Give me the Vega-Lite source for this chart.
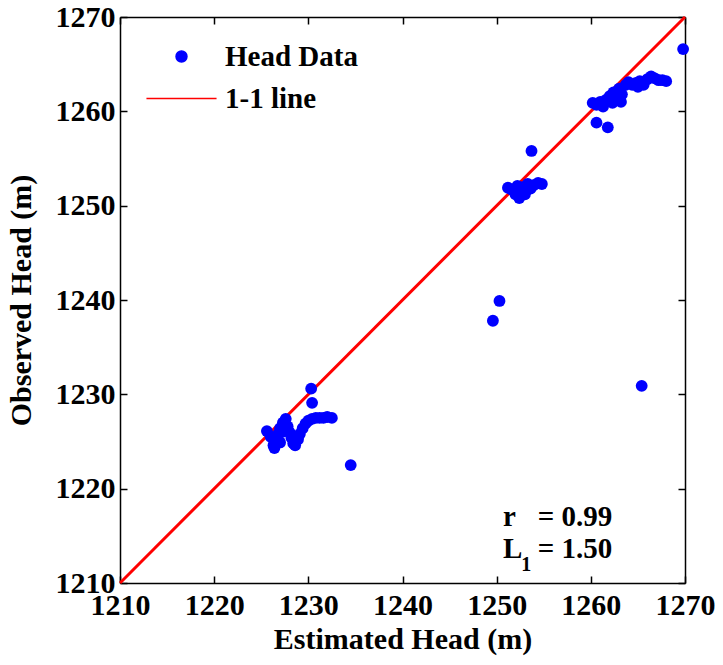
{
  "$schema": "https://vega.github.io/schema/vega-lite/v6.json",
  "autosize": "none",
  "width": 565,
  "height": 566,
  "padding": {"left": 120, "top": 17, "right": 38, "bottom": 82},
  "background": "white",
  "config": {
    "view": {"stroke": null},
    "font": "Liberation Serif",
    "axis": {"grid": false, "domainColor": "black", "domainWidth": 1.5, "tickColor": "black", "tickWidth": 1.5, "tickSize": -7,
      "labelFlush": false, "labelOverlap": false, "format": "d",
      "labelFont": "Liberation Serif", "labelFontWeight": "bold", "labelFontSize": 30, "labelColor": "black",
      "titleFont": "Liberation Serif", "titleFontWeight": "bold", "titleFontSize": 30, "titleColor": "black"},
    "legend": {"title": null, "orient": "none", "legendX": 47, "legendY": 25, "padding": 0,
      "labelFont": "Liberation Serif", "labelFontWeight": "bold", "labelFontSize": 29, "labelColor": "black",
      "labelOffset": 29, "rowPadding": 12, "symbolSize": 120}
  },
  "datasets": {
    "pts": [
      {"x": 1225.6, "y": 1226.1, "series": "Head Data"},
      {"x": 1226.0, "y": 1225.5, "series": "Head Data"},
      {"x": 1226.3, "y": 1224.6, "series": "Head Data"},
      {"x": 1226.4, "y": 1224.3, "series": "Head Data"},
      {"x": 1226.5, "y": 1225.0, "series": "Head Data"},
      {"x": 1226.8, "y": 1225.8, "series": "Head Data"},
      {"x": 1227.0, "y": 1226.4, "series": "Head Data"},
      {"x": 1227.0, "y": 1224.9, "series": "Head Data"},
      {"x": 1227.3, "y": 1227.0, "series": "Head Data"},
      {"x": 1227.6, "y": 1227.4, "series": "Head Data"},
      {"x": 1227.2, "y": 1226.0, "series": "Head Data"},
      {"x": 1227.8, "y": 1226.6, "series": "Head Data"},
      {"x": 1228.0, "y": 1226.0, "series": "Head Data"},
      {"x": 1228.2, "y": 1225.4, "series": "Head Data"},
      {"x": 1228.4, "y": 1224.8, "series": "Head Data"},
      {"x": 1228.6, "y": 1224.6, "series": "Head Data"},
      {"x": 1228.9, "y": 1225.2, "series": "Head Data"},
      {"x": 1229.1, "y": 1225.8, "series": "Head Data"},
      {"x": 1229.4, "y": 1226.4, "series": "Head Data"},
      {"x": 1229.7, "y": 1226.9, "series": "Head Data"},
      {"x": 1230.0, "y": 1227.2, "series": "Head Data"},
      {"x": 1230.4, "y": 1227.4, "series": "Head Data"},
      {"x": 1230.8, "y": 1227.5, "series": "Head Data"},
      {"x": 1231.2, "y": 1227.5, "series": "Head Data"},
      {"x": 1231.6, "y": 1227.5, "series": "Head Data"},
      {"x": 1232.0, "y": 1227.6, "series": "Head Data"},
      {"x": 1232.5, "y": 1227.5, "series": "Head Data"},
      {"x": 1230.3, "y": 1230.6, "series": "Head Data"},
      {"x": 1230.4, "y": 1229.1, "series": "Head Data"},
      {"x": 1234.5, "y": 1222.5, "series": "Head Data"},
      {"x": 1249.6, "y": 1237.8, "series": "Head Data"},
      {"x": 1250.3, "y": 1239.9, "series": "Head Data"},
      {"x": 1253.7, "y": 1255.8, "series": "Head Data"},
      {"x": 1251.2, "y": 1251.9, "series": "Head Data"},
      {"x": 1251.6, "y": 1251.7, "series": "Head Data"},
      {"x": 1252.0, "y": 1251.2, "series": "Head Data"},
      {"x": 1252.4, "y": 1250.8, "series": "Head Data"},
      {"x": 1252.6, "y": 1251.5, "series": "Head Data"},
      {"x": 1252.9, "y": 1252.0, "series": "Head Data"},
      {"x": 1253.3, "y": 1252.3, "series": "Head Data"},
      {"x": 1253.6, "y": 1251.8, "series": "Head Data"},
      {"x": 1254.0, "y": 1252.2, "series": "Head Data"},
      {"x": 1254.4, "y": 1252.4, "series": "Head Data"},
      {"x": 1254.8, "y": 1252.3, "series": "Head Data"},
      {"x": 1252.2, "y": 1252.1, "series": "Head Data"},
      {"x": 1253.0, "y": 1251.2, "series": "Head Data"},
      {"x": 1260.2, "y": 1260.9, "series": "Head Data"},
      {"x": 1260.6, "y": 1260.7, "series": "Head Data"},
      {"x": 1261.0, "y": 1261.0, "series": "Head Data"},
      {"x": 1261.3, "y": 1260.5, "series": "Head Data"},
      {"x": 1261.6, "y": 1261.2, "series": "Head Data"},
      {"x": 1262.0, "y": 1261.6, "series": "Head Data"},
      {"x": 1262.3, "y": 1260.9, "series": "Head Data"},
      {"x": 1262.6, "y": 1261.6, "series": "Head Data"},
      {"x": 1262.4, "y": 1262.0, "series": "Head Data"},
      {"x": 1262.9, "y": 1261.2, "series": "Head Data"},
      {"x": 1263.2, "y": 1261.0, "series": "Head Data"},
      {"x": 1263.0, "y": 1262.4, "series": "Head Data"},
      {"x": 1263.3, "y": 1261.8, "series": "Head Data"},
      {"x": 1263.7, "y": 1262.8, "series": "Head Data"},
      {"x": 1264.0, "y": 1263.1, "series": "Head Data"},
      {"x": 1264.4, "y": 1262.8, "series": "Head Data"},
      {"x": 1264.8, "y": 1263.0, "series": "Head Data"},
      {"x": 1265.2, "y": 1263.2, "series": "Head Data"},
      {"x": 1265.6, "y": 1262.8, "series": "Head Data"},
      {"x": 1266.0, "y": 1263.4, "series": "Head Data"},
      {"x": 1266.4, "y": 1263.7, "series": "Head Data"},
      {"x": 1266.8, "y": 1263.5, "series": "Head Data"},
      {"x": 1267.2, "y": 1263.3, "series": "Head Data"},
      {"x": 1267.6, "y": 1263.3, "series": "Head Data"},
      {"x": 1268.0, "y": 1263.2, "series": "Head Data"},
      {"x": 1265.0, "y": 1262.6, "series": "Head Data"},
      {"x": 1260.6, "y": 1258.8, "series": "Head Data"},
      {"x": 1261.8, "y": 1258.3, "series": "Head Data"},
      {"x": 1269.8, "y": 1266.6, "series": "Head Data"},
      {"x": 1265.4, "y": 1230.9, "series": "Head Data"}
    ],
    "line": [
      {"x": 1210, "y": 1210, "series": "1-1 line"},
      {"x": 1270, "y": 1270, "series": "1-1 line"}
    ],
    "notes": [
      {"x": 1250.66, "y": 1216.0, "text": "r", "size": 29},
      {"x": 1254.37, "y": 1216.0, "text": "= 0.99", "size": 29},
      {"x": 1250.66, "y": 1212.7, "text": "L", "size": 29},
      {"x": 1252.6, "y": 1211.3, "text": "1", "size": 20},
      {"x": 1254.37, "y": 1212.7, "text": "= 1.50", "size": 29}
    ]
  },
  "layer": [
    {
      "data": {"name": "line"},
      "mark": {"type": "line", "color": "#ff0000", "strokeWidth": 3},
      "encoding": {
        "x": {"field": "x", "type": "quantitative", "scale": {"domain": [1210, 1270], "nice": false, "zero": false}, "axis": {"title": "Estimated Head (m)", "values": [1210, 1220, 1230, 1240, 1250, 1260, 1270], "labelPadding": 14, "titlePadding": 4}},
        "y": {"field": "y", "type": "quantitative", "scale": {"domain": [1210, 1270], "nice": false, "zero": false}, "axis": {"title": "Observed Head (m)", "values": [1210, 1220, 1230, 1240, 1250, 1260, 1270], "labelPadding": 12, "titlePadding": 19}},
        "color": {"field": "series", "type": "nominal", "scale": {"domain": ["Head Data", "1-1 line"], "range": ["#0000ff", "#ff0000"]}}
      }
    },
    {
      "data": {"name": "pts"},
      "mark": {"type": "point", "filled": true, "opacity": 1, "size": 140},
      "encoding": {
        "x": {"field": "x", "type": "quantitative", "axis": null},
        "y": {"field": "y", "type": "quantitative", "axis": null},
        "color": {"field": "series", "type": "nominal", "legend": {
          "encode": {"symbols": {"update": {
            "stroke": {"signal": "datum.value === '1-1 line' ? '#ff0000' : '#0000ff'"},
            "fill": {"signal": "datum.value === '1-1 line' ? 'transparent' : '#0000ff'"},
            "strokeWidth": {"signal": "datum.value === '1-1 line' ? 3 : 0"},
            "opacity": {"value": 1}
          }}}
        }},
        "shape": {"field": "series", "type": "nominal", "scale": {"domain": ["Head Data", "1-1 line"], "range": ["circle", "M-6.4,0H6.4"]}}
      }
    },
    {
      "data": {"name": "notes"},
      "mark": {"type": "text", "align": "left", "baseline": "alphabetic", "font": "Liberation Serif", "fontWeight": "bold", "color": "black"},
      "encoding": {
        "x": {"field": "x", "type": "quantitative", "axis": {"orient": "top", "labels": false, "title": null, "values": [1210, 1220, 1230, 1240, 1250, 1260, 1270]}},
        "y": {"field": "y", "type": "quantitative", "axis": {"orient": "right", "labels": false, "title": null, "values": [1210, 1220, 1230, 1240, 1250, 1260, 1270]}},
        "text": {"field": "text"},
        "size": {"field": "size", "type": "quantitative", "scale": null}
      }
    }
  ],
  "resolve": {"axis": {"x": "independent", "y": "independent"}}
}
